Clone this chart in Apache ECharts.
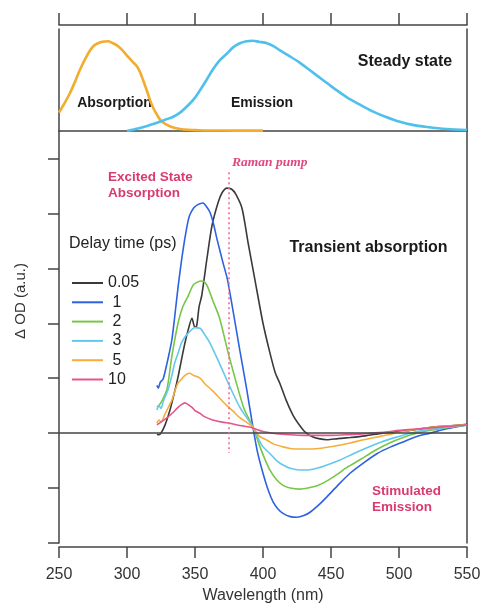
<!DOCTYPE html>
<html>
<head>
<meta charset="utf-8">
<script src="https://cdn.jsdelivr.net/npm/echarts@6/dist/echarts.min.js"></script>
<style>html,body{margin:0;padding:0;background:#fff}#c{width:483px;height:605px}</style>
</head>
<body>
<div id="c"></div>
<script>
// ---- Steady state (top panel) ----
var absWl = [250,254,258,262,265.4,269,272.8,276,278.7,282,286,289,292.6,296,300,304,307,309.5,311.8,314.5,317,319.5,322,325,329.4,334,339,345,352,360,380,400];
var absV  = [0.18,0.27,0.37,0.49,0.6,0.7,0.79,0.84,0.86,0.875,0.88,0.865,0.84,0.8,0.74,0.68,0.64,0.58,0.5,0.4,0.3,0.22,0.16,0.1,0.06,0.035,0.02,0.012,0.008,0.005,0.004,0.004];
var emWl  = [300,305,309.6,316,322,328,334,339,344,349,353.7,358,363,368,373.5,378,383,388,392.6,397,403,408,412.5,420,427,435,444,452,461.7,471,481,490,500.7,510,520.6,535,550];
var emV   = [0.0,0.015,0.03,0.055,0.08,0.11,0.14,0.18,0.24,0.31,0.4,0.49,0.6,0.69,0.76,0.82,0.86,0.88,0.885,0.875,0.86,0.83,0.79,0.73,0.67,0.59,0.5,0.42,0.33,0.26,0.19,0.14,0.09,0.06,0.04,0.02,0.01];

// ---- Transient absorption (bottom panel) ----
var delayNames = ['0.05','1','2','3','5','10'];
var wl0 = [322,323.5,325,328,331.6,334,337.5,340,342.6,345,347.8,349.8,351.2,353,355,358.8,362.5,367,370,373.5,377,380,384.6,389,394,400,405,409,412.5,417,422,427,431,436,441,447,455,464,475,488,500,508,525,540,550];
var v0  = [-0.02,-0.03,0.0,0.15,0.42,0.65,1.02,1.33,1.64,1.88,2.09,1.93,1.95,2.3,2.51,3.18,3.78,4.2,4.38,4.46,4.44,4.35,4.09,3.47,2.8,2.0,1.47,1.1,0.9,0.6,0.33,0.14,0.02,-0.06,-0.1,-0.12,-0.1,-0.08,-0.05,0.0,0.03,0.05,0.11,0.14,0.16];
var wl1 = [322,323,324.5,326.5,329.4,331,333,335,337.5,341,344,346,349,352,355.9,358.5,361,363.5,366,370.6,374,383,388,392.6,396,400,404,407.4,411,414.7,420,425,430,434.6,440,447,455,464,474,484,494,503,512,523,535,550];
var v1  = [0.87,0.82,0.93,0.98,1.27,1.45,1.7,2.1,2.65,3.3,3.75,3.96,4.1,4.16,4.19,4.12,4.02,3.82,3.55,3.1,2.78,1.5,0.8,0.11,-0.35,-0.73,-1.05,-1.25,-1.38,-1.46,-1.52,-1.53,-1.5,-1.44,-1.33,-1.16,-0.95,-0.73,-0.54,-0.37,-0.25,-0.16,-0.07,0.0,0.08,0.15];
var wl2 = [322,324,326,329.4,333,337.5,341,345,348.5,351,354,356.6,359,363,368,374,380,386,392.6,397.8,401,405,410,414.7,420,427,433,439.7,447,454,462,471,482,493,503,513,530,550];
var v2  = [0.47,0.52,0.6,0.8,1.4,2.0,2.3,2.5,2.69,2.74,2.77,2.76,2.68,2.42,2.1,1.5,0.95,0.45,0.11,-0.25,-0.45,-0.67,-0.85,-0.95,-1.0,-1.02,-1.0,-0.96,-0.87,-0.76,-0.62,-0.49,-0.32,-0.18,-0.08,0.0,0.08,0.15];
var wl3 = [322,323.5,325,327,330,333,335,337.5,340,342.6,345,347.8,350,353.7,357,361,368,375.7,383,392.6,397,400,405,410,414.7,420,427,433,439.7,447,456.6,466,476,487,498.5,507,518,532,550];
var v3  = [0.42,0.5,0.45,0.6,0.78,1.05,1.27,1.45,1.64,1.75,1.82,1.89,1.92,1.91,1.8,1.64,1.27,0.84,0.47,0.11,-0.12,-0.25,-0.37,-0.5,-0.58,-0.64,-0.67,-0.67,-0.64,-0.58,-0.49,-0.38,-0.27,-0.16,-0.07,-0.01,0.05,0.1,0.15];
var wl4 = [322,323.5,325,328,330,333,335,337.5,340,342.6,346,349,353.7,358,363,368,373,378,382,392.6,397,403,408,414.7,420,427,435,444,454,464,474,484,492,500.7,515,530,550];
var v4  = [0.18,0.24,0.2,0.35,0.45,0.6,0.75,0.91,0.98,1.05,1.09,1.05,1.0,0.88,0.77,0.64,0.51,0.4,0.3,0.11,-0.05,-0.13,-0.2,-0.25,-0.28,-0.29,-0.29,-0.27,-0.23,-0.18,-0.12,-0.07,-0.03,0.02,0.08,0.12,0.15];
var wl5 = [322,325,330,334,337.5,340,342.6,345,347.8,350,353.7,357,363,370,375.7,383,390,393,400,410,420,430,440,450,460,470,480,490,500,510,520,530,540,550];
var v5  = [0.15,0.2,0.29,0.38,0.47,0.52,0.55,0.52,0.47,0.41,0.36,0.3,0.24,0.2,0.18,0.14,0.11,0.09,0.03,-0.01,-0.03,-0.04,-0.04,-0.04,-0.03,-0.02,0.0,0.02,0.05,0.07,0.09,0.11,0.13,0.15];

var xTicks = [250,300,350,400,450,500,550];
var yTicks = [-2,-1,0,1,2,3,4,5];
var ramanPump = 375;

var colors = ['#3a3a3a','#2d62e0','#78c646','#62c8ee','#f5ae3c','#e2568e'];
var wls = [wl0,wl1,wl2,wl3,wl4,wl5];
var vals = [v0,v1,v2,v3,v4,v5];

function zip(a,b){ return a.map(function(x,i){ return [x,b[i]]; }); }

var axisColor = '#444';
var font = 'Liberation Sans, Arial, sans-serif';
var pink = '#d83a72';

var series = [
  {type:'line', name:'Absorption', xAxisIndex:0, yAxisIndex:0, data:zip(absWl,absV), showSymbol:false, smooth:0.3, lineStyle:{color:'#f2ac2e', width:2.6}, itemStyle:{color:'#f2ac2e'}, z:3},
  {type:'line', name:'Emission', xAxisIndex:0, yAxisIndex:0, data:zip(emWl,emV), showSymbol:false, smooth:0.3, lineStyle:{color:'#4fc0ec', width:2.6}, itemStyle:{color:'#4fc0ec'}, z:3}
];
delayNames.forEach(function(n,i){
  var s = {type:'line', name:n, xAxisIndex:2, yAxisIndex:2, data:zip(wls[i],vals[i]), showSymbol:false, smooth:0.25,
    lineStyle:{color:colors[i], width:1.6}, itemStyle:{color:colors[i]}, z:3};
  if(i===0){
    s.markLine = {silent:true, symbol:'none', label:{show:false}, animation:false,
      data:[
        {yAxis:0, lineStyle:{color:axisColor, width:1.5, type:'solid'}},
        [{coord:[ramanPump,4.75], lineStyle:{color:'#f06a9c', width:1.6, type:[2,3]}},{coord:[ramanPump,-0.36]}]
      ]};
  }
  series.push(s);
});

var chart = echarts.init(document.getElementById('c'), null, {renderer:'canvas'});
chart.setOption({
  animation:false,
  backgroundColor:'#fff',
  grid:[
    {left:59, right:16, top:29, height:102, outerBoundsMode:'none', containLabel:false},
    {left:59, right:16, top:131, height:412, outerBoundsMode:'none', containLabel:false}
  ],
  xAxis:[
    {gridIndex:0, type:'value', min:250, max:550, interval:50, position:'top', offset:4,
     axisLine:{show:true, onZero:false, lineStyle:{color:axisColor, width:1.5}},
     axisTick:{show:true, length:12, lineStyle:{color:axisColor, width:1.5}},
     axisLabel:{show:false}, splitLine:{show:false}},
    {gridIndex:0, type:'value', min:250, max:550, interval:50, position:'bottom',
     axisLine:{show:true, onZero:false, lineStyle:{color:axisColor, width:1.5}},
     axisTick:{show:false}, axisLabel:{show:false}, splitLine:{show:false}},
    {gridIndex:1, type:'value', min:250, max:550, interval:50, position:'bottom', offset:4,
     axisLine:{show:true, onZero:false, lineStyle:{color:axisColor, width:1.5}},
     axisTick:{show:true, length:11, lineStyle:{color:axisColor, width:1.5}},
     axisLabel:{show:true, fontSize:16, color:'#333', fontFamily:font, margin:20},
     splitLine:{show:false},
     name:'Wavelength (nm)', nameLocation:'middle', nameGap:40,
     nameTextStyle:{fontSize:16, color:'#333', fontFamily:font}}
  ],
  yAxis:[
    {gridIndex:0, type:'value', min:0, max:1,
     axisLine:{show:true, onZero:false, lineStyle:{color:axisColor, width:1.5}},
     axisTick:{show:false}, axisLabel:{show:false}, splitLine:{show:false}},
    {gridIndex:0, type:'value', min:0, max:1, position:'right',
     axisLine:{show:true, onZero:false, lineStyle:{color:axisColor, width:1.5}},
     axisTick:{show:false}, axisLabel:{show:false}, splitLine:{show:false}},
    {gridIndex:1, type:'value', min:-2, max:5.5,
     axisLine:{show:true, onZero:false, lineStyle:{color:axisColor, width:1.5}},
     axisTick:{show:true, length:11, customValues:yTicks, lineStyle:{color:axisColor, width:1.5}},
     axisLabel:{show:false}, splitLine:{show:false}},
    {gridIndex:1, type:'value', min:-2, max:5.5, position:'right',
     axisLine:{show:true, onZero:false, lineStyle:{color:axisColor, width:1.5}},
     axisTick:{show:false}, axisLabel:{show:false}, splitLine:{show:false}}
  ],
  legend:{
    data:delayNames, orient:'vertical', left:72, top:275, padding:0,
    icon:'rect', itemWidth:31, itemHeight:2, itemGap:3.3,
    textStyle:{fontSize:16, color:'#222', fontFamily:font, lineHeight:16},
    formatter:function(n){ return n.length===1 ? ' '+n : n; },
    selectedMode:false
  },
  graphic:[
    {type:'text', left:69, top:236, style:{text:'Delay time (ps)', font:'16px '+font, fill:'#222'}},
    {type:'text', x:405, y:62, style:{text:'Steady state', font:'bold 16px '+font, fill:'#1a1a1a', align:'center', verticalAlign:'middle'}},
    {type:'text', x:114.5, y:103, style:{text:'Absorption', font:'bold 14px '+font, fill:'#1a1a1a', align:'center', verticalAlign:'middle'}},
    {type:'text', x:262, y:103, style:{text:'Emission', font:'bold 14px '+font, fill:'#1a1a1a', align:'center', verticalAlign:'middle'}},
    {type:'text', x:368.5, y:248, style:{text:'Transient absorption', font:'bold 16px '+font, fill:'#1a1a1a', align:'center', verticalAlign:'middle'}},
    {type:'text', x:108, y:177, style:{text:'Excited State', font:'bold 13.5px '+font, fill:pink, align:'left', verticalAlign:'middle'}},
    {type:'text', x:108, y:193, style:{text:'Absorption', font:'bold 13.5px '+font, fill:pink, align:'left', verticalAlign:'middle'}},
    {type:'text', x:372, y:491, style:{text:'Stimulated', font:'bold 13.5px '+font, fill:pink, align:'left', verticalAlign:'middle'}},
    {type:'text', x:372, y:507, style:{text:'Emission', font:'bold 13.5px '+font, fill:pink, align:'left', verticalAlign:'middle'}},
    {type:'text', x:232, y:163, style:{text:'Raman pump', font:'italic bold 13.5px Liberation Serif, Times New Roman, serif', fill:'#e0487f', align:'left', verticalAlign:'middle'}},
    {type:'text', x:21, y:301, rotation:Math.PI/2, style:{text:'\u0394 OD (a.u.)', font:'15px '+font, fill:'#333', align:'center', verticalAlign:'middle'}}
  ],
  series:series
});
</script>
</body>
</html>
